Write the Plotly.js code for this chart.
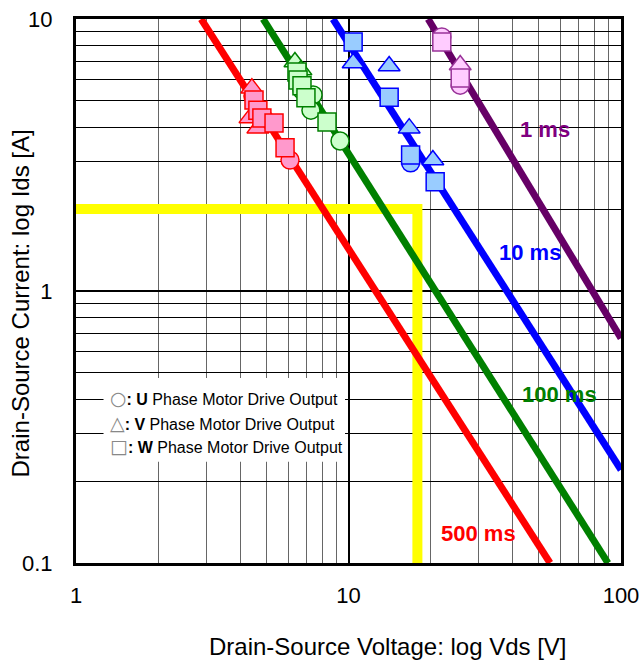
<!DOCTYPE html>
<html>
<head>
<meta charset="utf-8">
<script src="https://cdn.plot.ly/plotly-3.0.1.min.js"></script>
<style>html,body{margin:0;padding:0;background:#fff;}#chart{width:641px;height:663px;}</style>
</head>
<body>
<div id="chart"></div>
<script>
// SOA limit lines (Vds [V], Ids [A])
var line500msX = [2.88, 54.9];
var line500msY = [10, 0.1];
var line100msX = [4.86, 89.6];
var line100msY = [10, 0.1];
var line10msX = [8.77, 100];
var line10msY = [10, 0.22];
var line1msX = [19.6, 100];
var line1msY = [10, 0.67];

// operating-point guide (yellow)
var guideX = [1, 17.9, 17.9];
var guideY = [2, 2, 0.1];

// 500 ms measured points
var red_U_x = [4.46, 4.94, 6.10];
var red_U_y = [5.21, 4.26, 3.03];
var red_V_x = [4.42, 4.35, 4.65];
var red_V_y = [5.57, 4.33, 3.97];
var red_W_x = [4.50, 4.65, 4.81, 5.33, 5.85];
var red_W_y = [5.04, 4.62, 4.33, 4.15, 3.36];

// 100 ms measured points
var green_U_x = [6.75, 7.41, 7.28, 9.31];
var green_U_y = [5.48, 5.26, 4.62, 3.56];
var green_V_x = [6.36, 6.69];
var green_V_y = [6.95, 6.49];
var green_W_x = [6.47, 6.53, 6.75, 6.98, 8.34];
var green_W_y = [6.38, 5.97, 5.68, 5.13, 4.18];

// 10 ms measured points
var blue_U_x = [16.9];
var blue_U_y = [2.96];
var blue_V_x = [10.4, 14.1, 16.7, 20.4];
var blue_V_y = [6.89, 6.72, 3.97, 3.03];
var blue_W_x = [10.4, 14.1, 16.9, 20.8];
var blue_W_y = [8.23, 5.16, 3.16, 2.52];

// 1 ms measured points
var purple_U_x = [22.0, 25.7];
var purple_U_y = [8.59, 5.71];
var purple_V_x = [25.7];
var purple_V_y = [6.77];
var purple_W_x = [22.0, 25.7];
var purple_W_y = [8.23, 6.07];

var xTickVals = [1, 10, 100];
var xTickText = ['1', '10', '100'];
var yTickVals = [0.1, 1, 10];
var yTickText = ['0.1', '1', '10'];
var xMinor = [2,3,4,5,6,7,8,9,20,30,40,50,60,70,80,90];
var yMinor = [0.2,0.3,0.4,0.5,0.6,0.7,0.8,0.9,2,3,4,5,6,7,8,9];

var legendLines = [
  ['\u25CB', 'U'],
  ['\u25B3', 'V'],
  ['\u25A1', 'W']
];
var seriesLabels = ['1 ms', '10 ms', '100 ms', '500 ms'];
var xTitle = 'Drain-Source Voltage: log Vds [V]';
var yTitle = 'Drain-Source Current: log Ids [A]';

var FONT = 'Liberation Sans, Arial, Helvetica, sans-serif';
var traces = [];
function lineTrace(x, y, color, w) {
  return {x: x, y: y, mode: 'lines', line: {color: color, width: w}, hoverinfo: 'skip', showlegend: false, cliponaxis: true};
}
function markTrace(x, y, symbol, fill, edge) {
  return {x: x, y: y, mode: 'markers', showlegend: false, cliponaxis: false,
    marker: {symbol: symbol, size: (symbol === 'triangle-up' ? 19 : 18), color: fill, line: {color: edge, width: 1.5}}};
}
traces.push(lineTrace(guideX, guideY, '#ffff00', 10));
traces.push(lineTrace(line500msX, line500msY, '#ff0000', 7));
traces.push(lineTrace(line100msX, line100msY, '#008000', 7));
traces.push(lineTrace(line10msX, line10msY, '#0000ff', 7));
traces.push(lineTrace(line1msX, line1msY, '#660066', 7));

var groups = [
  [red_U_x, red_U_y, red_V_x, red_V_y, red_W_x, red_W_y, '#ff99cc', '#ff0000'],
  [green_U_x, green_U_y, green_V_x, green_V_y, green_W_x, green_W_y, '#ccffcc', '#008000'],
  [blue_U_x, blue_U_y, blue_V_x, blue_V_y, blue_W_x, blue_W_y, '#99ccff', '#0000ff'],
  [purple_U_x, purple_U_y, purple_V_x, purple_V_y, purple_W_x, purple_W_y, '#ffccff', '#993399']
];
groups.forEach(function (g) {
  traces.push(markTrace(g[0], g[1], 'circle', g[6], g[7]));
  traces.push(markTrace(g[2], g[3], 'triangle-up', g[6], g[7]));
  traces.push(markTrace(g[4], g[5], 'square', g[6], g[7]));
});

var annotations = [];
var labelPos = [[0.861, 0.796, '#800080'], [0.833, 0.571, '#0000ff'], [0.888, 0.309, '#008000'], [0.738, 0.055, '#ff0000']];
seriesLabels.forEach(function (t, i) {
  annotations.push({xref: 'paper', yref: 'paper', x: labelPos[i][0], y: labelPos[i][1], text: '<b>' + t + '</b>',
    showarrow: false, font: {family: FONT, size: 22, color: labelPos[i][2]}, xanchor: 'center', yanchor: 'middle'});
});
var legY = [0.303, 0.258, 0.215];
legendLines.forEach(function (l, i) {
  annotations.push({xref: 'paper', yref: 'paper', x: 0.0587, y: legY[i], xanchor: 'left', yanchor: 'middle', showarrow: false,
    text: '<span style="font-family:DejaVu Sans;font-size:19px;color:#888">' + l[0] + '</span><b>: ' + l[1] + '</b> Phase Motor Drive Output',
    font: {family: FONT, size: 16, color: '#000'}});
});
annotations.push({xref: 'paper', yref: 'paper', x: 0.5725, y: -0.154, xanchor: 'center', yanchor: 'middle', showarrow: false,
  text: xTitle, font: {family: FONT, size: 24, color: '#000'}});
annotations.push({xref: 'paper', yref: 'paper', x: -0.101, y: 0.477, xanchor: 'center', yanchor: 'middle', showarrow: false,
  textangle: -90, text: yTitle, font: {family: FONT, size: 24, color: '#000'}});

var layout = {
  width: 641, height: 663,
  margin: {l: 76, r: 20, t: 19, b: 100},
  paper_bgcolor: '#fff', plot_bgcolor: '#fff',
  font: {family: FONT, color: '#000'},
  showlegend: false,
  xaxis: {type: 'log', range: [0, 2], tickvals: xTickVals, ticktext: xTickText, ticks: '',
    showgrid: true, gridcolor: '#000', gridwidth: 2, zeroline: false,
    minor: {tickvals: xMinor, showgrid: true, gridcolor: '#666', gridwidth: 1, ticks: ''},
    showline: true, mirror: true, linecolor: '#000', linewidth: 3,
    tickfont: {family: FONT, size: 22, color: '#000'}, ticklabelstandoff: 11},
  yaxis: {type: 'log', range: [-1, 1], tickvals: yTickVals, ticktext: yTickText, ticks: '',
    showgrid: true, gridcolor: '#000', gridwidth: 2, zeroline: false,
    minor: {tickvals: yMinor, showgrid: true, gridcolor: '#000', gridwidth: 1, ticks: ''},
    showline: true, mirror: true, linecolor: '#000', linewidth: 3,
    tickfont: {family: FONT, size: 22, color: '#000'}, ticklabelstandoff: 16},
  shapes: [{type: 'rect', xref: 'paper', yref: 'paper', x0: 0.0505, x1: 0.4936, y0: 0.186, y1: 0.340,
    fillcolor: '#fff', line: {width: 0}, layer: 'above'}],
  annotations: annotations
};
Plotly.newPlot('chart', traces, layout, {displayModeBar: false, staticPlot: true});
</script>
</body>
</html>
